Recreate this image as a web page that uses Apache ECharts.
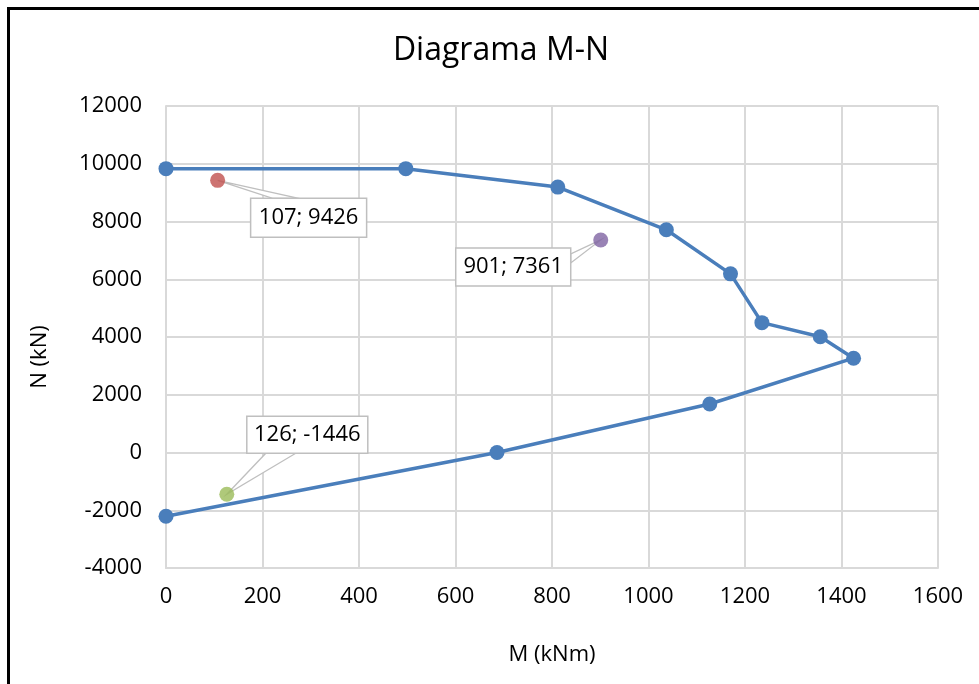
<!DOCTYPE html>
<html>
<head>
<meta charset="utf-8">
<title>Diagrama M-N</title>
<script src="https://cdn.jsdelivr.net/npm/echarts@6/dist/echarts.min.js"></script>
<style>
  html, body { margin: 0; padding: 0; background: #fff; }
  #chart { width: 979px; height: 684px; }
</style>
</head>
<body>
<div id="chart"></div>
<script>
// Interaction curve (M in kNm, N in kN)
const curveM = [0, 497, 812, 1037, 1170, 1235, 1356, 1425, 1127, 686, 0];
const curveN = [9830, 9830, 9192, 7712, 6187, 4497, 4010, 3266, 1679, 0, -2207];

// Load cases checked against the curve
const caseM = [107, 901, 126];
const caseN = [9426, 7361, -1446];
const caseColors = ['#c0504d', '#8064a2', '#9bbb59'];

// Axis ticks
const xTicks = [0, 200, 400, 600, 800, 1000, 1200, 1400, 1600];
const yTicks = [-4000, -2000, 0, 2000, 4000, 6000, 8000, 10000, 12000];

// Callout placement relative to each load case point (pixels)
// dx/dy: box corner offset, w/h: box size, edge: side the pointer attaches to, a/b: pointer base along that edge
const calloutLayout = [
  { dx: 33, dy: 18, w: 116, h: 39, edge: 'top', a: 22, b: 48 },
  { dx: -145, dy: 8, w: 115, h: 38, edge: 'right', a: 6, b: 15 },
  { dx: 20, dy: -78, w: 121, h: 37, edge: 'bottom', a: 19, b: 49 }
];

const FONT = '"Open Sans", "Liberation Sans", sans-serif';
const LABEL_SIZE = 22;
const GRID_COLOR = '#d9d9d9';
const CURVE_COLOR = '#4a7ebb';

const curveData = curveM.map((m, i) => [m, curveN[i]]);
const caseData = caseM.map((m, i) => [m, caseN[i]]);

const chart = echarts.init(document.getElementById('chart'), null, { renderer: 'canvas' });

function renderCallout(params, api) {
  const p = api.coord([api.value(0), api.value(1)]);
  const L = calloutLayout[params.dataIndex];
  const bx = p[0] + L.dx, by = p[1] + L.dy;
  let base1, base2;
  if (L.edge === 'top') { base1 = [bx + L.a, by]; base2 = [bx + L.b, by]; }
  else if (L.edge === 'bottom') { base1 = [bx + L.a, by + L.h]; base2 = [bx + L.b, by + L.h]; }
  else if (L.edge === 'right') { base1 = [bx + L.w, by + L.a]; base2 = [bx + L.w, by + L.b]; }
  else { base1 = [bx, by + L.a]; base2 = [bx, by + L.b]; }
  const text = api.value(0) + '; ' + api.value(1);
  return {
    type: 'group',
    children: [
      {
        type: 'polygon',
        shape: { points: [p, base1, base2] },
        style: { fill: '#fff', stroke: '#bfbfbf', lineWidth: 1.3 }
      },
      {
        type: 'rect',
        shape: { x: bx, y: by, width: L.w, height: L.h },
        style: { fill: '#fff', stroke: '#bfbfbf', lineWidth: 1.5 }
      },
      {
        type: 'text',
        style: {
          x: bx + L.w / 2, y: by + L.h / 2,
          text: text,
          fill: '#000',
          font: LABEL_SIZE + 'px ' + FONT,
          textAlign: 'center',
          textVerticalAlign: 'middle'
        }
      }
    ]
  };
}

const plainNumber = v => String(v);

const option = {
  backgroundColor: '#fff',
  animation: false,
  title: {
    text: 'Diagrama M-N',
    left: 501,
    top: 35,
    textAlign: 'center',
    padding: 0,
    textStyle: { fontFamily: FONT, fontSize: 32, fontWeight: 'normal', color: '#000' }
  },
  graphic: [
    {
      type: 'rect',
      shape: { x: 8.5, y: 8.5, width: 1100, height: 800 },
      style: { fill: 'none', stroke: '#000', lineWidth: 3 },
      silent: true,
      z: 100
    },
    {
      type: 'text',
      rotation: Math.PI / 2,
      x: 40, y: 357,
      style: {
        text: 'N (kN)',
        font: LABEL_SIZE + 'px ' + FONT,
        fill: '#000',
        textAlign: 'center',
        textVerticalAlign: 'middle'
      }
    }
  ],
  grid: { left: 166, right: 41, top: 106, bottom: 116, containLabel: false },
  xAxis: {
    type: 'value',
    min: xTicks[0],
    max: xTicks[xTicks.length - 1],
    interval: xTicks[1] - xTicks[0],
    name: 'M (kNm)',
    nameLocation: 'middle',
    nameGap: 76,
    nameTextStyle: { fontFamily: FONT, fontSize: LABEL_SIZE, color: '#000' },
    axisLine: { show: true, onZero: false, lineStyle: { color: GRID_COLOR, width: 2 } },
    axisTick: { show: false },
    axisLabel: { fontFamily: FONT, fontSize: LABEL_SIZE, color: '#000', margin: 18, formatter: plainNumber },
    splitLine: { show: true, lineStyle: { color: GRID_COLOR, width: 2 } }
  },
  yAxis: {
    type: 'value',
    min: yTicks[0],
    max: yTicks[yTicks.length - 1],
    interval: yTicks[1] - yTicks[0],
    axisLine: { show: true, onZero: false, lineStyle: { color: GRID_COLOR, width: 2 } },
    axisTick: { show: false },
    axisLabel: { fontFamily: FONT, fontSize: LABEL_SIZE, color: '#000', margin: 24, formatter: plainNumber },
    splitLine: { show: true, lineStyle: { color: GRID_COLOR, width: 2 } }
  },
  series: [
    {
      name: 'Diagrama',
      type: 'line',
      data: curveData,
      symbol: 'circle',
      symbolSize: 15,
      showAllSymbol: true,
      lineStyle: { color: CURVE_COLOR, width: 3.5 },
      itemStyle: { color: CURVE_COLOR },
      z: 3
    },
    {
      name: 'Callouts',
      type: 'custom',
      data: caseData,
      renderItem: renderCallout,
      z: 4,
      silent: true
    },
    {
      name: 'Cargas',
      type: 'scatter',
      data: caseData.map((d, i) => ({ value: d, itemStyle: { color: caseColors[i] } })),
      symbol: 'circle',
      symbolSize: 15,
      z: 5
    }
  ]
};

chart.setOption(option);
</script>
</body>
</html>
